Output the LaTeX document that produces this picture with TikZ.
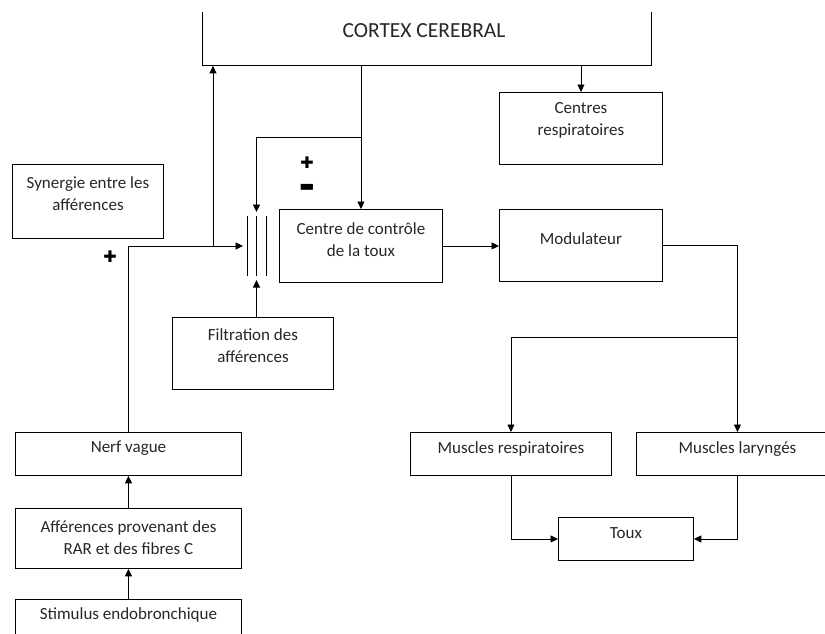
\documentclass[tikz,border=0pt]{standalone}
\usepackage{fontspec}
\setmainfont{Carlito}
\newfontfamily\symb{DejaVu Sans}
\usetikzlibrary{positioning, arrows.meta}

\begin{document}
\begin{tikzpicture}[x=1pt, y=-1pt, >={Triangle[length=7.5pt, width=7pt]}, line width=0.9pt,
    boite/.style={draw=black, line width=0.9pt, inner sep=0, anchor=north west},
    txt/.style={font=\fontsize{17}{22}\selectfont, align=center, text=black!85},
    signe/.style={font=\symb\fontsize{16}{16}\selectfont}]
            \clip (0,0) rectangle (825,633);
            \useasboundingbox (0,0) rectangle (825,633);

            \node [inner sep=0, anchor=north west, minimum width=449, minimum height=53] (cortex) at (202,12) {};
            \draw (cortex.north west) -- (cortex.south west) -- (cortex.south east) -- (cortex.north east);
            \node [txt, font=\fontsize{21.5}{24}\selectfont] (cortex-t) at (424,31) {CORTEX CEREBRAL};

            \node [boite, minimum width=163, minimum height=72] (cresp) at (499,92) {};
            \node [txt] (cresp-t) at ([yshift=-28.5]cresp.north) {Centres\\respiratoires};

            \node [boite, minimum width=151, minimum height=74] (synergie) at (12,164) {};
            \node [txt] (synergie-t) at ([yshift=-30]synergie.north) {Synergie entre les\\afférences};

            \node [boite, minimum width=163, minimum height=73] (ccontrole) at (279,209) {};
            \node [txt] (ccontrole-t) at ([yshift=-31]ccontrole.north) {Centre de contrôle\\de la toux};

            \node [boite, minimum width=163, minimum height=72] (modulateur) at (499,209) {};
            \node [txt] (modulateur-t) at ([yshift=-30]modulateur.north) {Modulateur};

            \node [inner sep=0, minimum width=19, minimum height=60, outer sep=4] (filtre) at (256.5,246) {};
            \foreach \dx in {-9.5, 0, 9.5}
                \draw ([xshift=\dx pt]filtre.center) ++(0,-30) -- ++(0,60);

            \node [boite, minimum width=161, minimum height=72] (filtration) at (172,317) {};
            \node [txt] (filtration-t) at ([yshift=-29]filtration.north) {Filtration des\\afférences};

            \node [boite, minimum width=226, minimum height=43] (nerf) at (15,432) {};
            \node [txt] (nerf-t) at ([yshift=-16]nerf.north) {Nerf vague};

            \node [boite, minimum width=226, minimum height=60] (afferences) at (15,508) {};
            \node [txt] (afferences-t) at ([yshift=-29.5]afferences.north) {Afférences provenant des\\RAR et des fibres C};

            \node [boite, minimum width=226, minimum height=60] (stimulus) at (15,599) {};
            \node [txt] (stimulus-t) at ([yshift=-16]stimulus.north) {Stimulus endobronchique};

            \node [boite, minimum width=201, minimum height=43] (mresp) at (410,432) {};
            \node [txt] (mresp-t) at ([yshift=-17]mresp.north) {Muscles respiratoires};

            \node [boite, minimum width=202, minimum height=43] (mlar) at (636,432) {};
            \node [txt] (mlar-t) at ([yshift=-17]mlar.north) {Muscles laryngés};

            \node [boite, minimum width=135, minimum height=43] (toux) at (558,517) {};
            \node [txt] (toux-t) at ([yshift=-16]toux.north) {Toux};

            \node [signe] (plus-a) at (110,257) {✚};
            \node [signe] (plus-b) at (307,163) {✚};
            \node [signe] (moins-b) at (307,188) {▬};

            \coordinate (jonction) at (213,246);
            \coordinate (retour) at (360.5,137);
            \coordinate (branche) at (737,337);

            \path [->] (nerf.north) edge[to path={|- (\tikztotarget)}] (filtre.west)
            (jonction) edge (jonction |- cortex.south)
            (ccontrole.north |- cortex.south) edge (ccontrole.north)
            (retour) edge[to path={-| (\tikztotarget)}] (filtre.north)
            (filtre.south |- filtration.north) edge (filtre.south)
            (cresp.north |- cortex.south) edge (cresp.north)
            (ccontrole.east) edge (ccontrole.east -| modulateur.west)
            (modulateur.east) edge[to path={-| (\tikztotarget)}] (mlar.north)
            (branche) edge[to path={-| (\tikztotarget)}] (mresp.north)
            (mresp.south) edge[to path={|- (\tikztotarget)}] (toux.west)
            (mlar.south) edge[to path={|- (\tikztotarget)}] (toux.east)
            (afferences.north) edge (nerf.south)
            (stimulus.north) edge (afferences.south);
          \end{tikzpicture}
\end{document}
